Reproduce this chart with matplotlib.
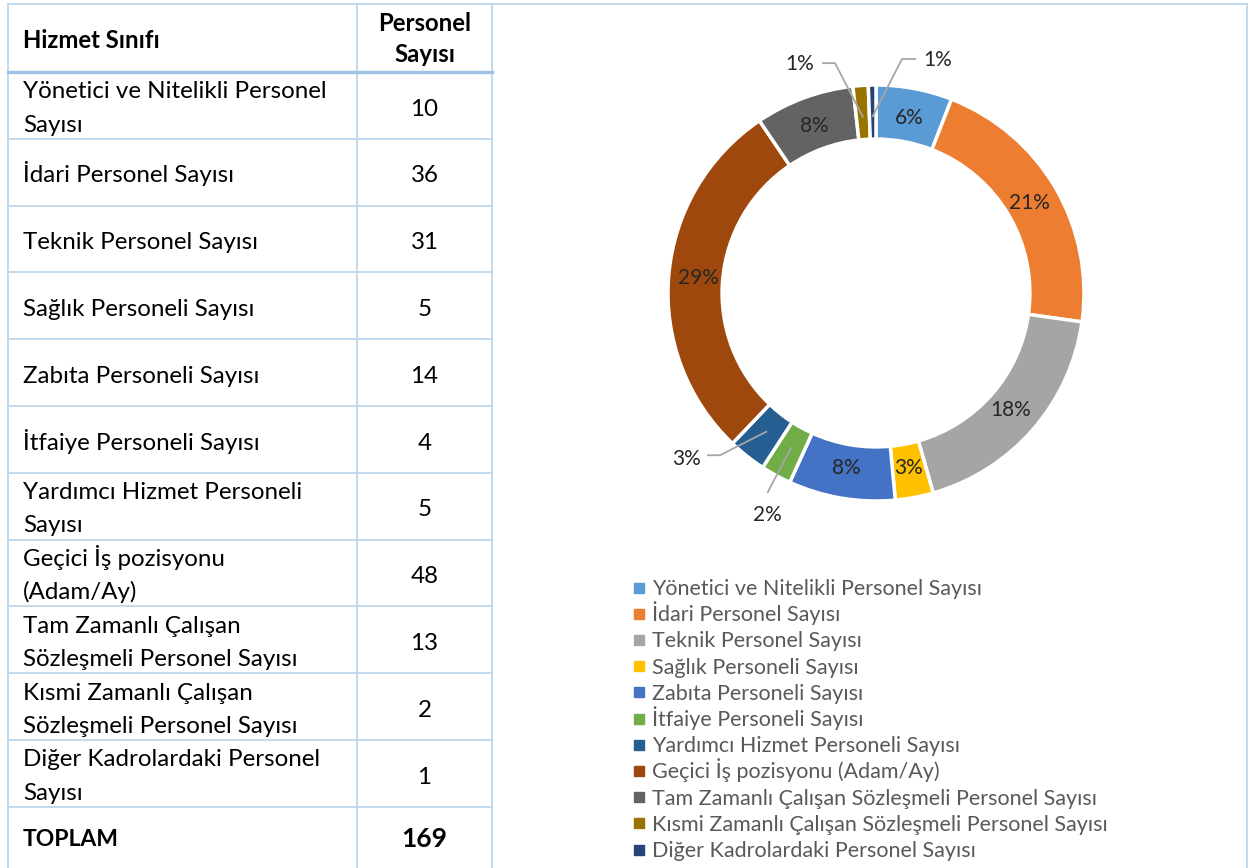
import matplotlib
matplotlib.use('Agg')
import matplotlib.pyplot as plt
import numpy as np

plt.rcParams['font.family'] = ['Lato', 'DejaVu Sans']

# Data
table_labels = ['Yönetici ve Nitelikli Personel\nSayısı', 'İdari Personel Sayısı', 'Teknik Personel Sayısı',
                'Sağlık Personeli Sayısı', 'Zabıta Personeli Sayısı', 'İtfaiye Personeli Sayısı',
                'Yardımcı Hizmet Personeli\nSayısı', 'Geçici İş pozisyonu\n(Adam/Ay)',
                'Tam Zamanlı Çalışan\nSözleşmeli Personel Sayısı', 'Kısmi Zamanlı Çalışan\nSözleşmeli Personel Sayısı',
                'Diğer Kadrolardaki Personel\nSayısı']
legend_labels = ['Yönetici ve Nitelikli Personel Sayısı', 'İdari Personel Sayısı', 'Teknik Personel Sayısı',
                 'Sağlık Personeli Sayısı', 'Zabıta Personeli Sayısı', 'İtfaiye Personeli Sayısı',
                 'Yardımcı Hizmet Personeli Sayısı', 'Geçici İş pozisyonu (Adam/Ay)',
                 'Tam Zamanlı Çalışan Sözleşmeli Personel Sayısı', 'Kısmi Zamanlı Çalışan Sözleşmeli Personel Sayısı',
                 'Diğer Kadrolardaki Personel Sayısı']
counts = [10, 36, 31, 5, 14, 4, 5, 48, 13, 2, 1]
pct_labels = ['6%', '21%', '18%', '3%', '8%', '2%', '3%', '29%', '8%', '1%', '1%']
colors = ['#5B9BD5', '#ED7D31', '#A5A5A5', '#FFC000', '#4472C4', '#70AD47',
          '#255E91', '#9E480E', '#636363', '#997300', '#264478']

W, H = 1250, 868
fig = plt.figure(figsize=(12.5, 8.68), dpi=100)

# background axes in pixel coordinates for the table
bg = fig.add_axes([0, 0, 1, 1])
bg.set_xlim(0, W)
bg.set_ylim(H, 0)
bg.axis('off')

line_c = '#BDD7EE'
lw = 1.3
x0, x1, x2, x3 = 8, 357, 492, 1247
top, head = 4, 72
row_h = 66.8

bg.plot([x0, x3], [top, top], color=line_c, lw=lw)
for x in [x0, x1, x2, x3]:
    bg.plot([x, x], [top, H], color=line_c, lw=lw)
bg.plot([x0, x2], [head, head], color='#9DC3E6', lw=2.4)

bg.text(23, (top + head) / 2 + 3, 'Hizmet Sınıfı', fontsize=17.2, fontweight='bold', va='center', ha='left')
bg.text((x1 + x2) / 2, (top + head) / 2 + 1, 'Personel\nSayısı', fontsize=17.2, fontweight='bold',
        va='center', ha='center', linespacing=1.45)

for i, (lab, c) in enumerate(zip(table_labels, counts)):
    y_top = head + i * row_h
    if i > 0:
        bg.plot([x0, x2], [y_top, y_top], color=line_c, lw=lw)
    lines = lab.split('\n')
    if len(lines) == 1:
        bg.text(23, y_top + 43.5, lines[0], fontsize=17.4, va='baseline', ha='left')
    else:
        for k, ln in enumerate(lines):
            bg.text(23, y_top + 26.5 + 33 * k, ln, fontsize=17.4, va='baseline', ha='left')
    bg.text((x1 + x2) / 2, y_top + 43.5, str(c), fontsize=17.4, va='baseline', ha='center')

y_tot = head + len(counts) * row_h
bg.plot([x0, x2], [y_tot, y_tot], color=line_c, lw=lw)
bg.text(23, (y_tot + H) / 2 + 2, 'TOPLAM', fontsize=16.5, fontweight='bold', va='center', ha='left')
bg.text((x1 + x2) / 2, (y_tot + H) / 2 + 2, str(sum(counts)), fontsize=19, fontweight='bold',
        va='center', ha='center')

# donut chart
cx, cy, R = 876, 293, 208
ax = fig.add_axes([(cx - R) / W, (H - cy - R) / H, 2 * R / W, 2 * R / H])
wedges, _ = ax.pie(counts, colors=colors, startangle=90, counterclock=False, radius=1,
                   wedgeprops=dict(width=0.26, edgecolor='white', linewidth=2.5))
ax.set_xlim(-1, 1)
ax.set_ylim(-1, 1)
ax.axis('off')

# external labels for small slices: label centre, leader line points (near label -> elbow)
outside = {
    9: ((-0.365, 1.10), [(-0.255, 1.105), (-0.197, 1.105)]),
    10: ((0.295, 1.12), [(0.188, 1.125), (0.125, 1.125)]),
    6: ((-0.913, -0.80), [(-0.808, -0.78), (-0.75, -0.78)]),
    5: ((-0.524, -1.065), [(-0.52, -0.957)]),
}
for i, (w, p) in enumerate(zip(wedges, pct_labels)):
    ang = np.deg2rad((w.theta1 + w.theta2) / 2)
    if i in outside:
        (lx, ly), pts = outside[i]
        r0 = 0.85
        xs = [q[0] for q in pts] + [r0 * np.cos(ang)]
        ys = [q[1] for q in pts] + [r0 * np.sin(ang)]
        ax.plot(xs, ys, color='#A6A6A6', lw=1.3, clip_on=False)
        ax.text(lx, ly, p, fontsize=15, ha='center', va='center', color='#262626', clip_on=False)
    else:
        r = 0.855
        ax.text(r * np.cos(ang), r * np.sin(ang), p, fontsize=15, ha='center', va='center', color='#262626')

# legend, one entry per row with fixed spacing
leg_x, leg_y, leg_dy = 639, 587.5, 26.2
for i, (lab, c) in enumerate(zip(legend_labels, colors)):
    y = leg_y + i * leg_dy
    bg.plot([leg_x], [y], marker='s', markersize=6.5, color=c, linestyle='')
    bg.text(leg_x + 13, y + 7.5, lab, fontsize=15.5, color='#595959', va='baseline', ha='left')

fig.savefig('out.png', dpi=100)
